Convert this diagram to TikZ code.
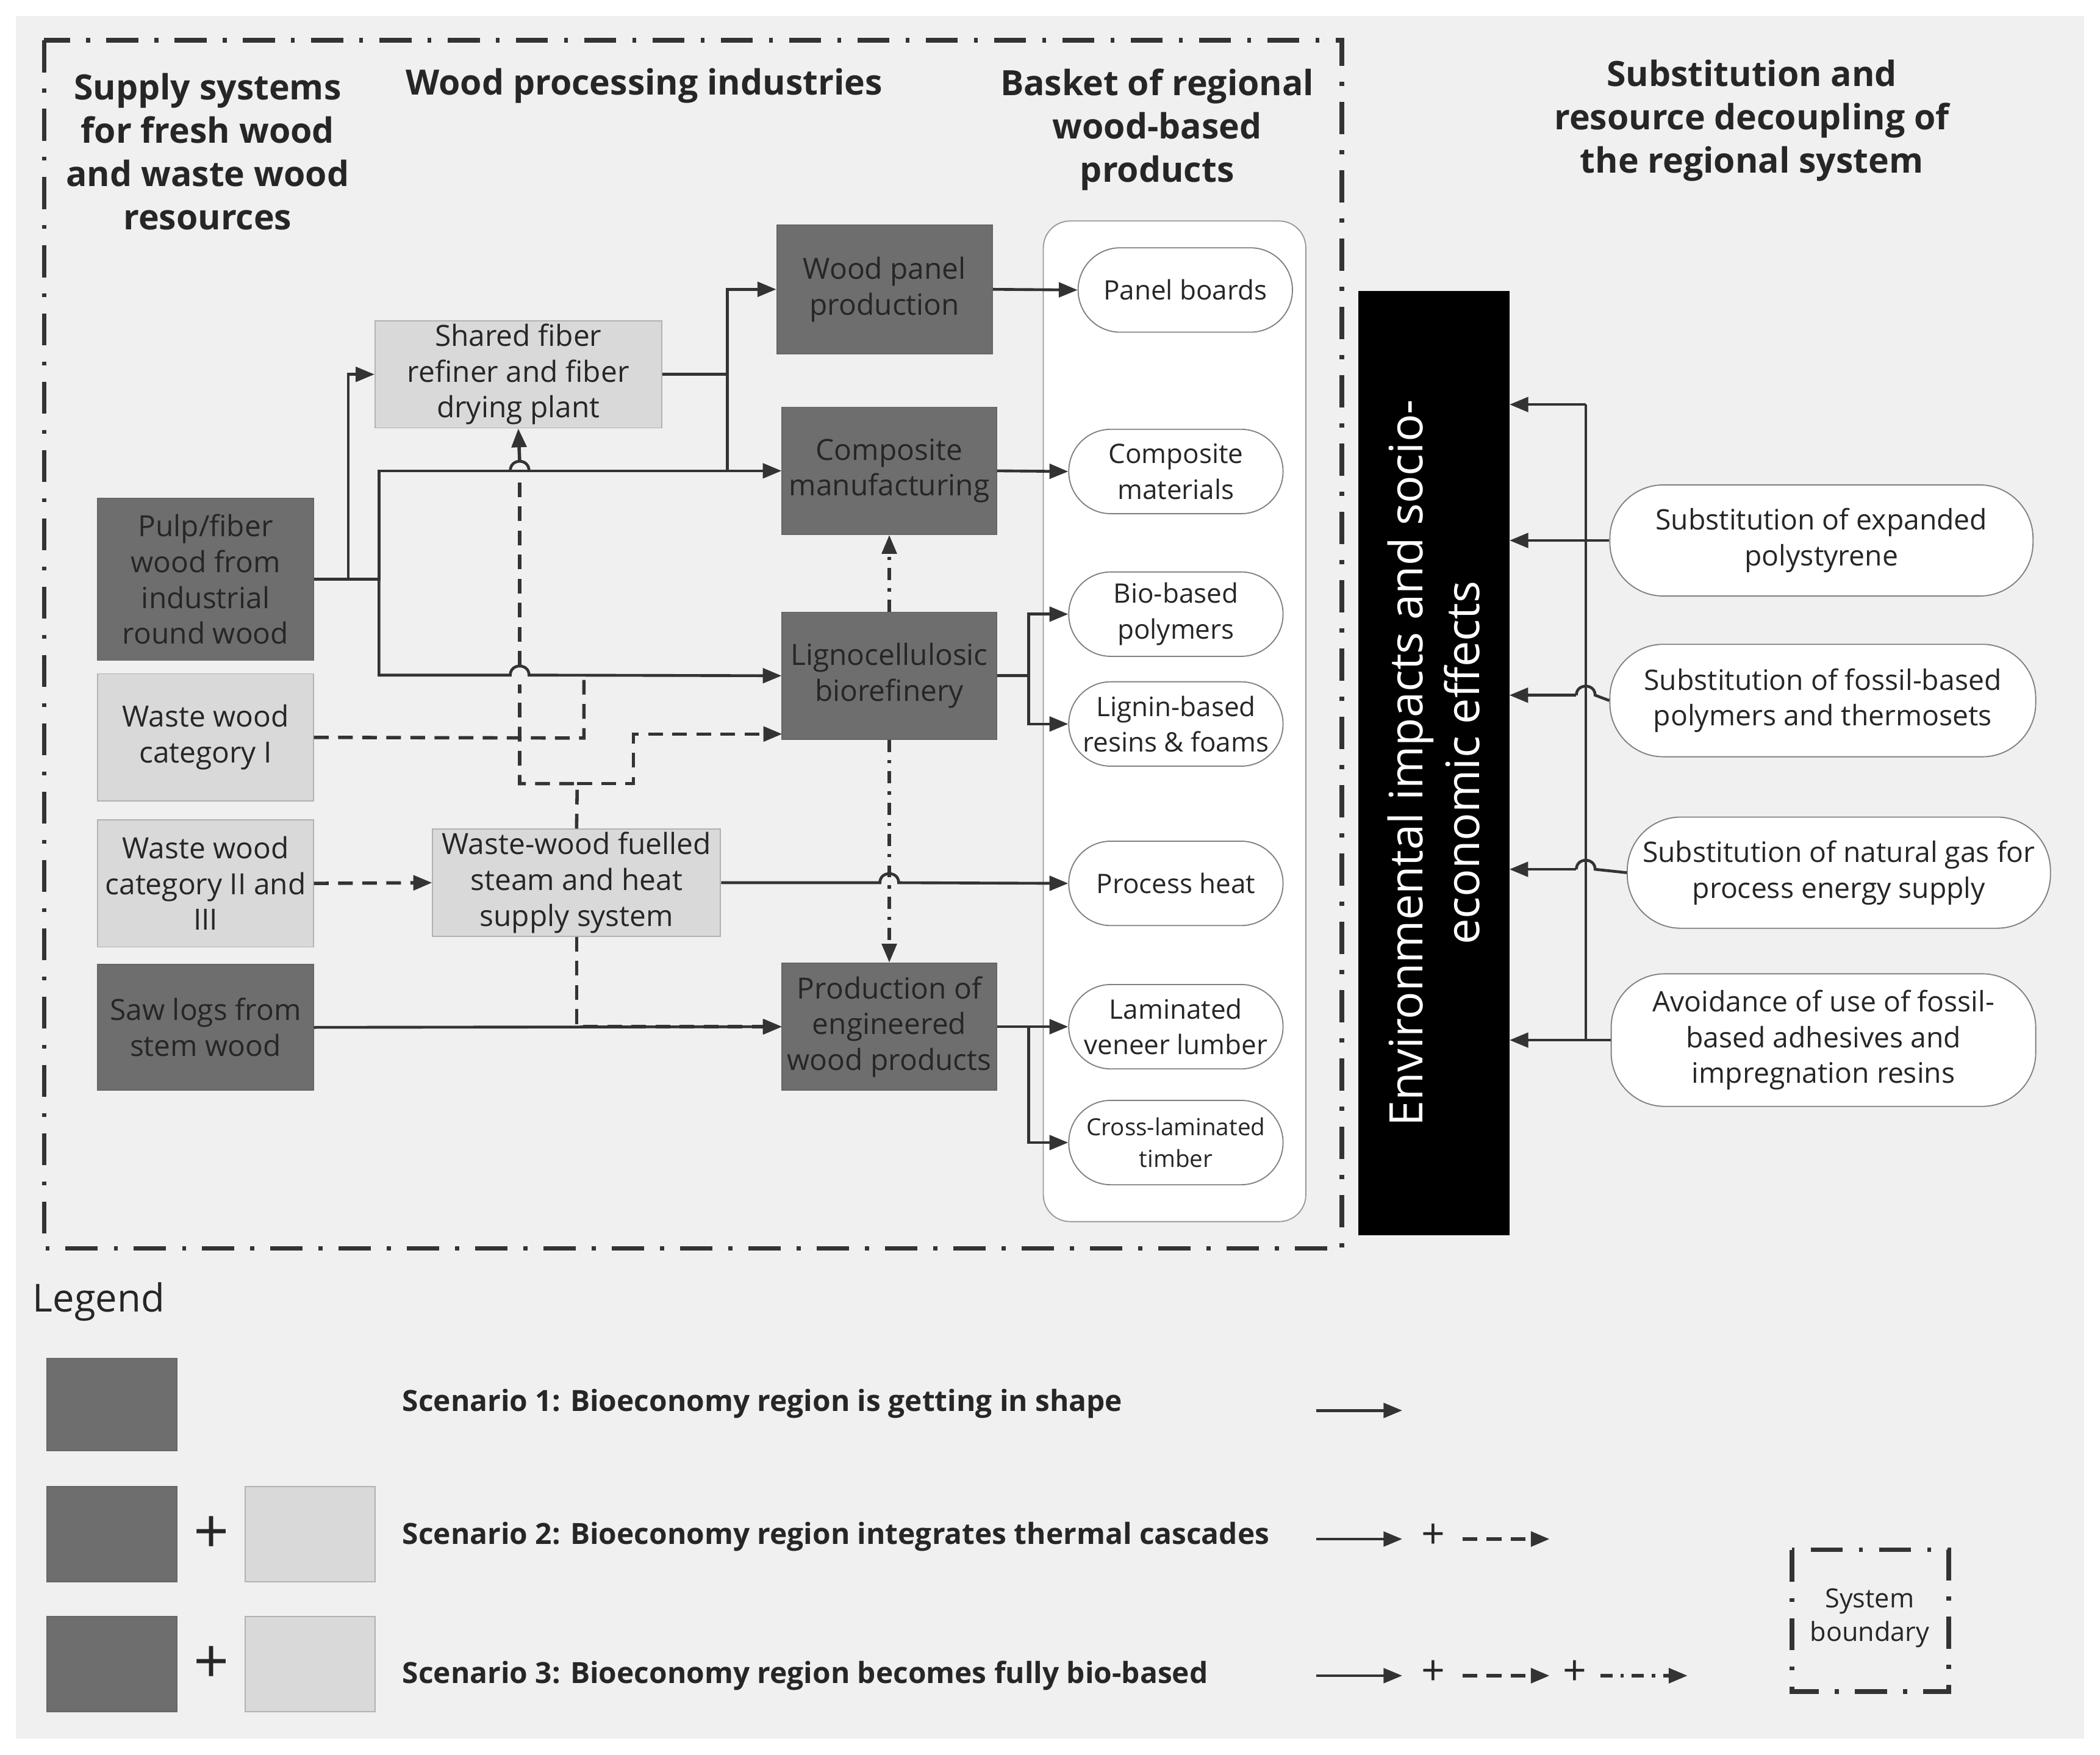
\documentclass[tikz,border=0pt]{standalone}
\usepackage{fontspec}
\setmainfont{Open Sans}
\usetikzlibrary{arrows.meta}
\definecolor{dk}{HTML}{6E6E6E}
\definecolor{lt}{HTML}{D9D9D9}
\begin{document}
\begin{tikzpicture}[x=0.05cm,y=-0.05cm,
  every node/.style={font=\fontsize{31}{38}\selectfont, align=center, text=black!85},
  hdr/.style={font=\fontsize{37}{46}\bfseries\selectfont},
  dark/.style={draw=black!60, fill=dk, line width=1.2pt},
  light/.style={draw=black!30, fill=lt, line width=1.2pt},
  prod/.style={draw=black!50, fill=white, line width=1.2pt, minimum width=8cm, minimum height=3.15cm, rounded corners=1.57cm, font=\fontsize{28.5}{38}\selectfont},
  sub/.style={draw=black!50, fill=white, line width=1.2pt, rounded corners=2cm, font=\fontsize{30}{38}\selectfont},
  a/.style={line width=3pt, draw=black!80, -{Triangle[length=0.7cm,width=0.55cm]}},
  l/.style={line width=3pt, draw=black!80},
  ds/.style={line width=3.6pt, dash pattern=on 0.55cm off 0.35cm},
  dd/.style={line width=3.4pt, dash pattern=on 0.45cm off 0.3cm on 0.12cm off 0.3cm},
  sb/.style={line width=5pt, draw=black!80, dash pattern=on 1.2cm off 0.6cm on 0.15cm off 0.6cm}]
\useasboundingbox (0,0) rectangle (1568,1310);
\fill[white] (0,0) rectangle (1568,1310);
\fill[black!6] (12,12) rectangle (1556,1298);
\draw[sb] (33,30) rectangle (1002,932);
\node[hdr] at (155,113) {Supply systems\\for fresh wood\\and waste wood\\resources};
\node[hdr] at (481,64) {Wood processing industries};
\node[hdr] at (864,97) {Basket of regional\\wood-based\\products};
\node[hdr] at (1308,90) {Substitution and\\resource decoupling of\\the regional system};
\draw[draw=black!40, fill=white, line width=1.2pt, rounded corners=1cm] (779,165) rectangle (975,912);
% sources
\node[dark, minimum width=8.05cm, minimum height=6.05cm] (pulp) at (153.5,432.5) {Pulp/fiber\\wood from\\industrial\\round wood};
\node[light, minimum width=8.05cm, minimum height=4.75cm] (w1) at (153.5,550.5) {Waste wood\\category I};
\node[light, minimum width=8.05cm, minimum height=4.75cm] (w2) at (153.5,659.5) {Waste wood\\category II and\\III};
\node[dark, minimum width=8.05cm, minimum height=4.7cm] (saw) at (153.5,767) {Saw logs from\\stem wood};
\node[light, minimum width=10.7cm, minimum height=3.95cm] (shared) at (387,279.5) {Shared fiber\\refiner and fiber\\drying plant};
\node[dark, minimum width=8.05cm, minimum height=4.8cm] (panel) at (660.5,216) {Wood panel\\production};
\node[dark, minimum width=8cm, minimum height=4.75cm] (comp) at (664,351.5) {Composite\\manufacturing};
\node[dark, minimum width=8cm, minimum height=4.75cm] (ligno) at (664,504.5) {Lignocellulosic\\biorefinery};
\node[light, minimum width=10.75cm, minimum height=4cm] (fuel) at (430.5,659) {Waste-wood fuelled\\steam and heat\\supply system};
\node[dark, minimum width=8cm, minimum height=4.75cm] (eng) at (664,766.5) {Production of\\engineered\\wood products};
% products
\node[prod] (pb) at (885,216.5) {Panel boards};
\node[prod] (cm) at (878,352) {Composite\\materials};
\node[prod] (bp) at (878,458.5) {Bio-based\\polymers};
\node[prod] (lr) at (878,540.5) {Lignin-based\\resins \& foams};
\node[prod] (ph) at (878,659.5) {Process heat};
\node[prod] (lvl) at (878,766.5) {Laminated\\veneer lumber};
\node[prod, font=\fontsize{25}{34}\selectfont] (clt) at (878,853) {Cross-laminated\\timber};
% bar
\node[fill=black, minimum width=5.65cm, minimum height=35.25cm] (bar) at (1070.5,569.5) {};
\node[rotate=90, text=white, font=\fontsize{49}{60}\selectfont] at (1070.5,569.5) {Environmental impacts and socio-\\economic effects};
% substitution
\node[sub, minimum width=15.8cm, minimum height=4.15cm] (s1) at (1360,403.5) {Substitution of expanded\\polystyrene};
\node[sub, minimum width=15.9cm, minimum height=4.2cm] (s2) at (1361,523) {Substitution of fossil-based\\polymers and thermosets};
\node[sub, minimum width=15.8cm, minimum height=4.15cm] (s3) at (1373,651.5) {Substitution of natural gas for\\process energy supply};
\node[sub, minimum width=15.85cm, minimum height=4.95cm] (s4) at (1361.5,776.5) {Avoidance of use of fossil-\\based adhesives and\\impregnation resins};
\coordinate (vt) at (1184,302);
\coordinate (vb) at (1184,776);
\draw[l] (vt) -- (vb);
\draw[a] (vt) -- (vt -| bar.east);
\draw[a] (s1.west) -- (s1.west -| bar.east);
\draw[l] (s2.west) -- (1191,519) .. controls (1191,510) and (1177,510) .. (1177,519);
\draw[a] (1177,519) -- (1127,519);
\draw[l] (s3.west) -- (1191,649) .. controls (1191,640) and (1177,640) .. (1177,649);
\draw[a] (1177,649) -- (1127,649);
\draw[a] (s4.west) -- (s4.west -| bar.east);
% scenario 1 connectors
\draw[a] (pulp.east) -- (260,432.5) |- (shared.west);
\draw[a] (pulp.east) -- (283,432.5) |- (comp.west);
\draw[a] (283,432) -- (283,504) -- (381,504) .. controls (381,495) and (395,495) .. (395,504) -- (ligno.west);
\draw[l] (shared.east) -- (543,279.5);
\draw[a] (543,279.5) |- (panel.west);
\draw[l] (543,279.5) -- (543,351.5);
\draw[a] (panel.east) -- (pb.west);
\draw[a] (comp.east) -- (cm.west);
\draw[l] (ligno.east) -- (768,504.5);
\draw[a] (768,504.5) |- (bp.west);
\draw[a] (768,504.5) |- (lr.west);
\draw[a] (fuel.east) -- (657,659) .. controls (657,650) and (671,650) .. (671,659) -- (ph.west);
\draw[a] (saw.east) -- (eng.west);
\draw[l] (eng.east) -- (768,766.5);
\draw[a] (768,766.5) -- (lvl.west);
\draw[a] (768,766.5) |- (clt.west);
% scenario 2 connectors
\draw[l, ds] (w1.east) -- (436,551) -- (436,504);
\draw[a, ds] (w2.east) -- (fuel.west);
\draw[l, ds] (fuel.north) -- (431,585) -- (388,585) -- (388,511);
\draw[l, ds] (388,497) -- (388,358);
\draw[a, ds] (388,344) -- (shared.south);
\draw[l] (381,351.5) .. controls (381,342) and (395,342) .. (395,351.5);
\draw[a, ds] (431,585) -- (473,585) |- (584,548);
\draw[a, ds] (fuel.south) |- (584,766.5);
% scenario 3
\draw[a, dd] (ligno.north) -- (comp.south);
\draw[a, dd] (ligno.south) -- (eng.north);
% legend
\node[font=\fontsize{41}{48}\selectfont, anchor=west] at (22,972) {Legend};
\node[dark, minimum width=4.85cm, minimum height=3.45cm] (l1) at (83.5,1048.5) {};
\node[dark, minimum width=4.85cm, minimum height=3.55cm] (l2) at (83.5,1145.5) {};
\node[light, minimum width=4.85cm, minimum height=3.55cm] (l2b) at (231.5,1145.5) {};
\node[dark, minimum width=4.85cm, minimum height=3.55cm] (l3) at (83.5,1242.5) {};
\node[light, minimum width=4.85cm, minimum height=3.55cm] (l3b) at (231.5,1242.5) {};
\node[font=\fontsize{66}{66}\selectfont] at (158,1146) {+};
\node[font=\fontsize{66}{66}\selectfont] at (158,1243) {+};
\tikzset{lg/.style={font=\fontsize{31}{36}\bfseries\selectfont, anchor=west}}
\node[lg] at (298,1048) {Scenario 1: Bioeconomy region is getting in shape};
\node[lg] at (298,1147) {Scenario 2: Bioeconomy region integrates thermal cascades};
\node[lg] at (298,1251) {Scenario 3: Bioeconomy region becomes fully bio-based};
\coordinate (r1a) at (983,1053); \coordinate (r1b) at (1047,1053);
\draw[a] (r1a) -- (r1b);
\coordinate (r2a) at (983,1149); \coordinate (r2b) at (1047,1149);
\coordinate (r2c) at (1092,1149); \coordinate (r2d) at (1157,1149);
\draw[a] (r2a) -- (r2b);
\node[font=\fontsize{44}{44}\selectfont] at (1070,1147) {+};
\draw[a, ds] (r2c) -- (r2d);
\coordinate (r3a) at (983,1251); \coordinate (r3b) at (1047,1251);
\coordinate (r3c) at (1092,1251); \coordinate (r3d) at (1157,1251);
\coordinate (r3e) at (1195,1251); \coordinate (r3f) at (1260,1251);
\draw[a] (r3a) -- (r3b);
\node[font=\fontsize{44}{44}\selectfont] at (1070,1249) {+};
\draw[a, ds] (r3c) -- (r3d);
\node[font=\fontsize{44}{44}\selectfont] at (1176,1249) {+};
\draw[a, dd] (r3e) -- (r3f);
\draw[sb] (1338,1157) rectangle (1455,1263);
\node[font=\fontsize{28}{36}\selectfont] at (1396,1208) {System\\boundary};
\end{tikzpicture}
\end{document}
